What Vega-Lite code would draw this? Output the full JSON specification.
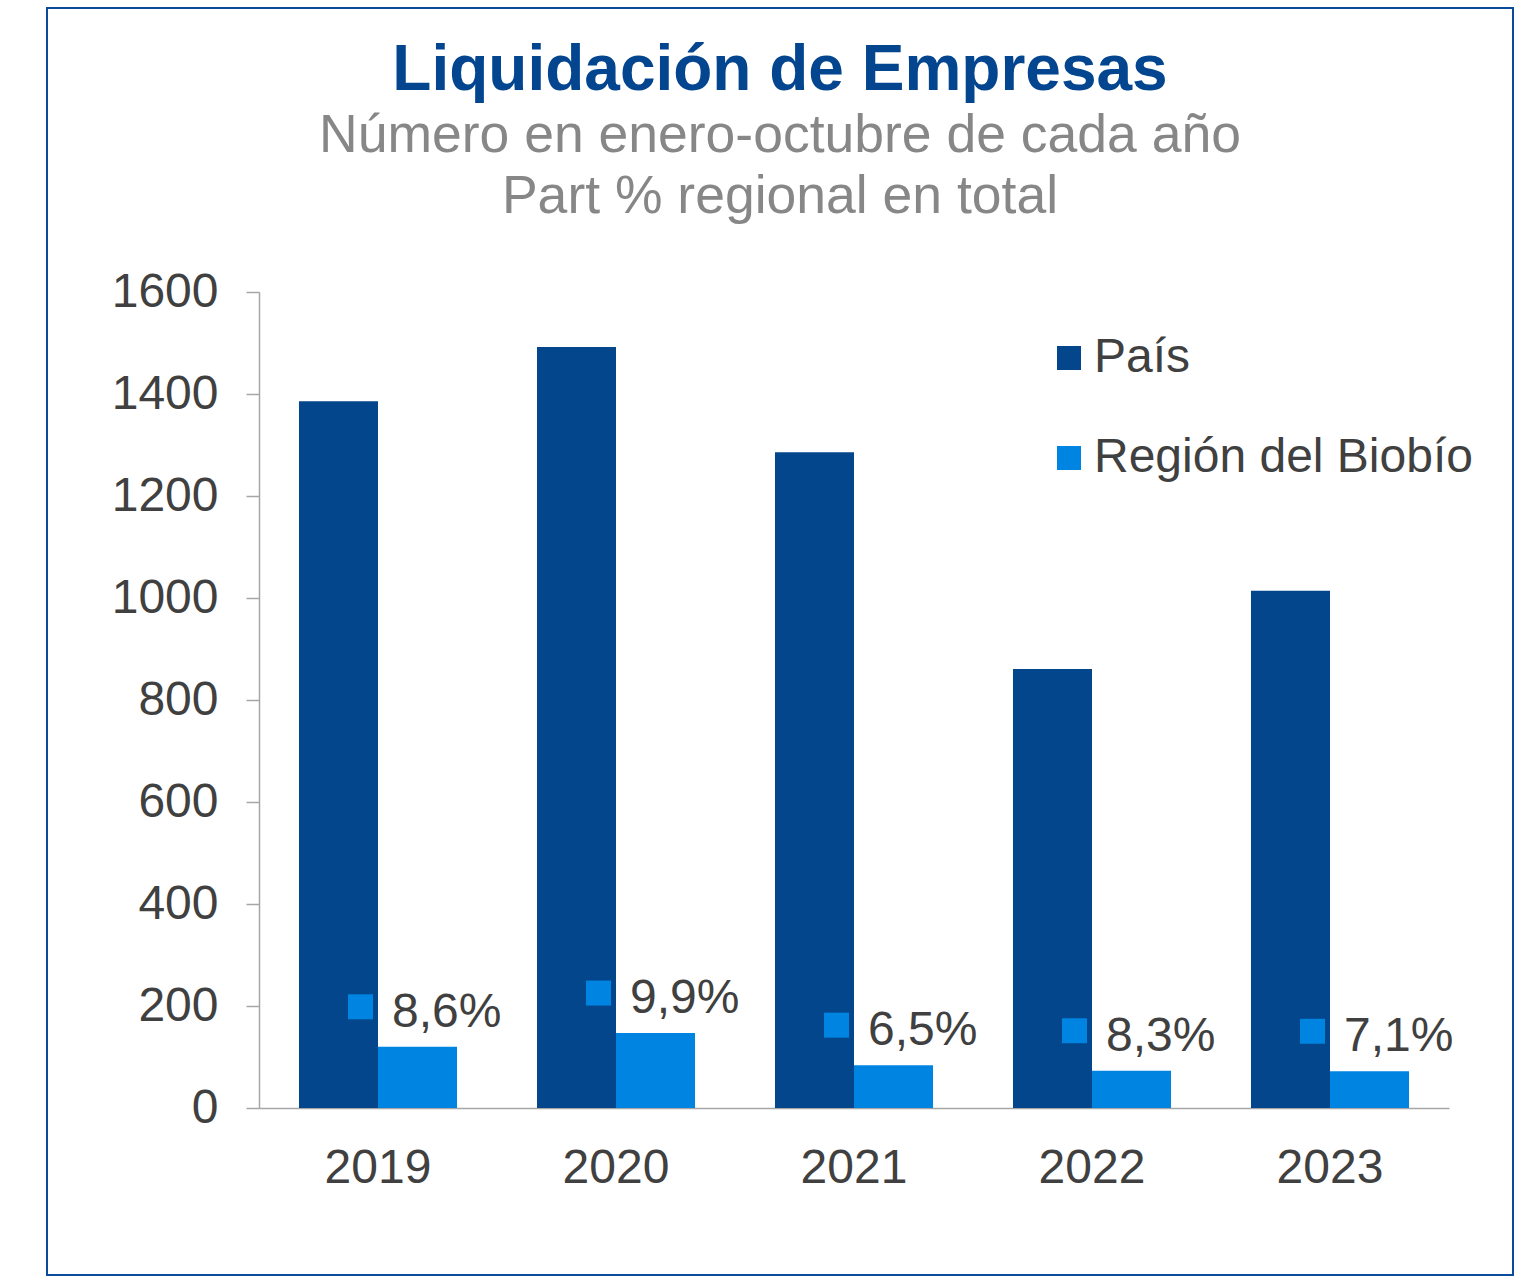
{
  "$schema": "https://vega.github.io/schema/vega-lite/v6.json",
  "width": 1466,
  "height": 1267,
  "autosize": {"type": "none"},
  "padding": {"left": 47, "top": 8, "right": 19, "bottom": 2},
  "background": "white",
  "title": {
    "text": "Liquidación de Empresas",
    "subtitle": ["Número en enero-octubre de cada año", "Part % regional en total"],
    "font": "Liberation Sans",
    "fontSize": 64,
    "fontWeight": "bold",
    "color": "#03468F",
    "subtitleFont": "Liberation Sans",
    "subtitleFontSize": 53.5,
    "subtitleColor": "#878787",
    "subtitleLineHeight": 61,
    "subtitlePadding": 7,
    "anchor": "middle",
    "frame": "group",
    "offset": -215
  },
  "data": {
    "values": [
      {"year": "2019", "serie": "País", "value": 1386, "pct": ""},
      {"year": "2019", "serie": "Región del Biobío", "value": 120, "pct": "8,6%"},
      {"year": "2020", "serie": "País", "value": 1492, "pct": ""},
      {"year": "2020", "serie": "Región del Biobío", "value": 147, "pct": "9,9%"},
      {"year": "2021", "serie": "País", "value": 1286, "pct": ""},
      {"year": "2021", "serie": "Región del Biobío", "value": 84, "pct": "6,5%"},
      {"year": "2022", "serie": "País", "value": 861, "pct": ""},
      {"year": "2022", "serie": "Región del Biobío", "value": 73, "pct": "8,3%"},
      {"year": "2023", "serie": "País", "value": 1014, "pct": ""},
      {"year": "2023", "serie": "Región del Biobío", "value": 72, "pct": "7,1%"}
    ]
  },
  "encoding": {
    "x": {
      "field": "year",
      "type": "nominal",
      "scale": {"range": [212, 1402], "paddingInner": 0.336, "paddingOuter": 0.168},
      "axis": {
        "title": null,
        "orient": "bottom",
        "offset": -167,
        "labelAngle": 0,
        "ticks": false,
        "tickSize": 0,
        "labelPadding": 36,
        "labelFont": "Liberation Sans",
        "labelFontSize": 48,
        "labelColor": "#404040",
        "domainColor": "#A6A6A6",
        "domainWidth": 1.5,
        "grid": false
      }
    },
    "y": {
      "field": "value",
      "type": "quantitative",
      "scale": {"domain": [0, 1600], "range": [1100, 284], "nice": false, "zero": true},
      "axis": {
        "title": null,
        "orient": "left",
        "offset": -212,
        "values": [0, 200, 400, 600, 800, 1000, 1200, 1400, 1600],
        "format": "d",
        "tickSize": 13,
        "tickColor": "#A6A6A6",
        "tickWidth": 1.5,
        "labelPadding": 28,
        "labelFont": "Liberation Sans",
        "labelFontSize": 48,
        "labelColor": "#404040",
        "domainColor": "#A6A6A6",
        "domainWidth": 1.5,
        "grid": false
      }
    }
  },
  "layer": [
    {
      "mark": {"type": "bar"},
      "encoding": {
        "xOffset": {"field": "serie", "type": "nominal", "scale": {"paddingInner": 0, "paddingOuter": 0}},
        "color": {
          "field": "serie",
          "type": "nominal",
          "scale": {"domain": ["País", "Región del Biobío"], "range": ["#03468C", "#0084E2"]},
          "legend": {
            "title": null,
            "orient": "none",
            "legendX": 998,
            "legendY": 326,
            "symbolType": "square",
            "symbolSize": 576,
            "symbolStrokeWidth": 0,
            "labelFont": "Liberation Sans",
            "labelFontSize": 48,
            "labelColor": "#404040",
            "labelOffset": 1,
            "labelLimit": 0,
            "rowPadding": 52,
            "padding": 0
          }
        }
      }
    },
    {
      "transform": [{"filter": {"field": "serie", "equal": "Región del Biobío"}}],
      "mark": {"type": "point", "shape": "square", "filled": true, "size": 625, "color": "#0084E2", "opacity": 1, "xOffset": -17.5, "yOffset": -40}
    },
    {
      "transform": [{"filter": {"field": "serie", "equal": "Región del Biobío"}}],
      "mark": {"type": "text", "align": "left", "baseline": "alphabetic", "dx": 14, "dy": -20, "font": "Liberation Sans", "fontSize": 48, "color": "#404040"},
      "encoding": {"text": {"field": "pct", "type": "nominal"}}
    }
  ],
  "config": {
    "view": {"stroke": "#0A4B9B", "strokeWidth": 2}
  }
}
